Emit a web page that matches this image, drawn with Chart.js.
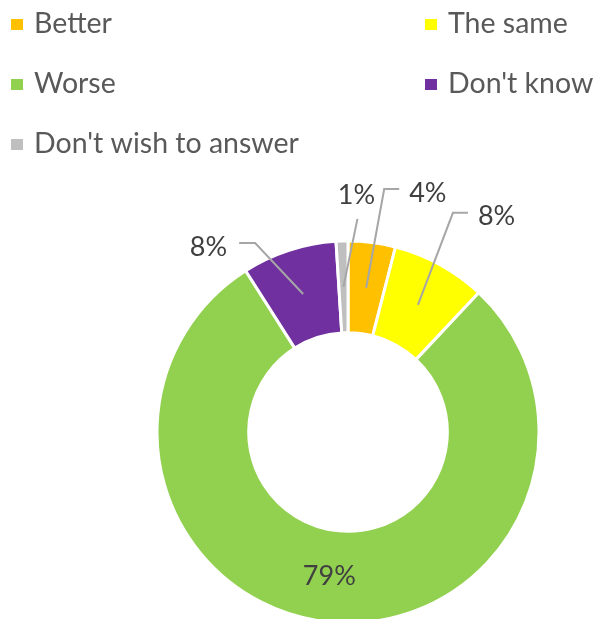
<!DOCTYPE html>
<html>
<head>
<meta charset="utf-8">
<script src="https://cdn.jsdelivr.net/npm/chart.js@4.4.0/dist/chart.umd.min.js"></script>
<style>
html,body{margin:0;padding:0;background:#fff;}
#wrap{width:593px;height:619px;position:relative;}
</style>
</head>
<body>
<div id="wrap"><canvas id="c" width="593" height="619"></canvas></div>
<script>
const categories = ['Better', 'The same', 'Worse', "Don't know", "Don't wish to answer"];
const values = [4, 8, 79, 8, 1];
const valueLabels = ['4%', '8%', '79%', '8%', '1%'];
const colors = ['#FFC000', '#FFFF00', '#92D050', '#7030A0', '#BFBFBF'];

// label layout: offsets relative to slice anchor point
const labelLayout = [
  {line: [[18, -99], [33, -99]], text: [43, -95], align: 'left'},
  {line: [[35, -92], [50, -92]], text: [60, -88], align: 'left'},
  {line: [], text: [-5, 0], align: 'center'},
  {line: [[-48, -51], [-64, -51]], text: [-76, -47], align: 'right'},
  {line: [[14, -68]], text: [13, -92], align: 'center'}
];

const FONT = 'Lato, "Open Sans", sans-serif';

const legendPlugin = {
  id: 'customLegend',
  afterDraw(chart) {
    const ctx = chart.ctx;
    const labels = chart.data.labels;
    const bg = chart.data.datasets[0].backgroundColor;
    const colX = [11, 425];
    const rowBase = [33, 93, 153];
    ctx.save();
    ctx.font = '28.5px ' + FONT;
    ctx.textBaseline = 'alphabetic';
    ctx.textAlign = 'left';
    labels.forEach((lab, i) => {
      const col = i % 2, row = Math.floor(i / 2);
      const x = colX[col], yb = rowBase[row];
      ctx.fillStyle = bg[i];
      ctx.fillRect(x, yb - 14, 12, 11);
      ctx.fillStyle = '#595959';
      ctx.fillText(lab, x + 23, yb);
    });
    ctx.restore();
  }
};

const labelPlugin = {
  id: 'sliceLabels',
  afterDatasetsDraw(chart) {
    const ctx = chart.ctx;
    const meta = chart.getDatasetMeta(0);
    ctx.save();
    ctx.font = '27px ' + FONT;
    ctx.textBaseline = 'middle';
    meta.data.forEach((arc, i) => {
      const mid = (arc.startAngle + arc.endAngle) / 2;
      const rm = (arc.innerRadius + arc.outerRadius) / 2;
      const ax = arc.x + Math.cos(mid) * rm;
      const ay = arc.y + Math.sin(mid) * rm;
      const L = labelLayout[i];
      if (L.line.length) {
        ctx.strokeStyle = '#A6A6A6';
        ctx.lineWidth = 2;
        ctx.beginPath();
        ctx.moveTo(ax, ay);
        L.line.forEach(p => ctx.lineTo(ax + p[0], ay + p[1]));
        ctx.stroke();
      }
      ctx.fillStyle = '#404040';
      ctx.textAlign = L.align;
      ctx.fillText(chart.data.datasets[0].labelsText[i], ax + L.text[0], ay + L.text[1]);
    });
    ctx.restore();
  }
};

new Chart(document.getElementById('c'), {
  type: 'doughnut',
  data: {
    labels: categories,
    datasets: [{
      data: values,
      labelsText: valueLabels,
      backgroundColor: colors,
      borderColor: '#FFFFFF',
      borderWidth: 3,
      hoverOffset: 0
    }]
  },
  options: {
    responsive: false,
    animation: false,
    radius: 191,
    cutout: '52%',
    layout: {padding: {left: 157, right: 54, top: 245, bottom: 0}},
    plugins: {legend: {display: false}, tooltip: {enabled: false}}
  },
  plugins: [labelPlugin, legendPlugin]
});
</script>
</body>
</html>
